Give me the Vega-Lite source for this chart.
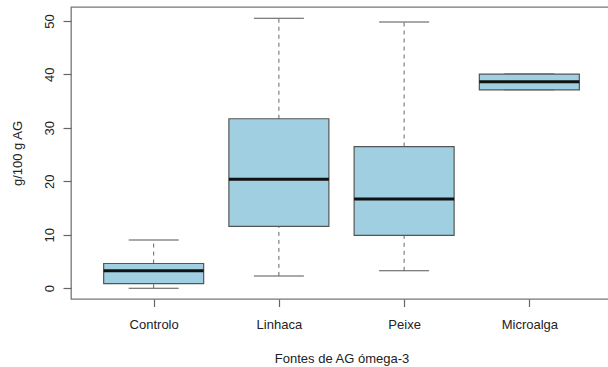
{
  "$schema": "https://vega.github.io/schema/vega-lite/v6.json",
  "width": 541,
  "height": 292,
  "autosize": {"type": "none"},
  "padding": {"left": 71, "top": 7, "right": 0, "bottom": 68},
  "background": "white",
  "data": {
    "values": [
      {"fonte": "Controlo", "min": 0.0, "q1": 0.87, "median": 3.25, "q3": 4.62, "max": 9.0},
      {"fonte": "Linhaca", "min": 2.3, "q1": 11.55, "median": 20.4, "q3": 31.7, "max": 50.5},
      {"fonte": "Peixe", "min": 3.25, "q1": 9.87, "median": 16.7, "q3": 26.5, "max": 49.8},
      {"fonte": "Microalga", "min": 37.1, "q1": 37.1, "median": 38.6, "q3": 40.05, "max": 40.05}
    ]
  },
  "encoding": {
    "x": {
      "field": "fonte",
      "type": "nominal",
      "sort": ["Controlo", "Linhaca", "Peixe", "Microalga"],
      "scale": {"type": "point", "padding": 0.66},
      "axis": {
        "title": "Fontes de AG ómega-3",
        "labelAngle": 0,
        "labelBaseline": "alphabetic",
        "labelPadding": 21.5,
        "tickSize": 7.5,
        "titleBaseline": "alphabetic",
        "titleY": 63.7
      }
    }
  },
  "layer": [
    {
      "mark": {"type": "rule", "strokeDash": [4, 4], "color": "#666", "strokeWidth": 1},
      "encoding": {
        "y": {"field": "q3", "type": "quantitative", "scale": {"domain": [-2.02, 52.6], "nice": false, "zero": false},
          "axis": {
            "title": "g/100 g AG",
            "values": [0, 10, 20, 30, 40, 50],
            "labelAngle": -90,
            "labelAlign": "center",
            "labelBaseline": "alphabetic",
            "labelPadding": 10,
            "tickSize": 8,
            "titleAngle": -90,
            "titleAlign": "center",
            "titleBaseline": "alphabetic",
            "titleX": -50,
            "titleY": 146
          }
        },
        "y2": {"field": "max"}
      }
    },
    {
      "mark": {"type": "rule", "strokeDash": [4, 4], "color": "#666", "strokeWidth": 1},
      "encoding": {
        "y": {"field": "min", "type": "quantitative"},
        "y2": {"field": "q1"}
      }
    },
    {
      "mark": {"type": "tick", "size": 50, "thickness": 1, "color": "#555", "opacity": 1},
      "encoding": {"y": {"field": "max", "type": "quantitative"}}
    },
    {
      "mark": {"type": "tick", "size": 50, "thickness": 1, "color": "#555", "opacity": 1},
      "encoding": {"y": {"field": "min", "type": "quantitative"}}
    },
    {
      "mark": {"type": "bar", "width": 100, "fill": "#9FCFE0", "stroke": "#555", "strokeWidth": 1.2, "opacity": 1},
      "encoding": {
        "y": {"field": "q1", "type": "quantitative"},
        "y2": {"field": "q3"}
      }
    },
    {
      "mark": {"type": "tick", "size": 100, "thickness": 3, "color": "#111", "opacity": 1},
      "encoding": {"y": {"field": "median", "type": "quantitative"}}
    }
  ],
  "config": {
    "view": {"stroke": "#777", "strokeWidth": 1.3},
    "axis": {
      "grid": false,
      "domain": false,
      "tickColor": "#666",
      "tickWidth": 1.2,
      "labelFont": "Liberation Sans",
      "labelFontSize": 13,
      "labelColor": "#222",
      "titleFont": "Liberation Sans",
      "titleFontSize": 13,
      "titleFontWeight": "normal",
      "titleColor": "#222"
    }
  }
}
